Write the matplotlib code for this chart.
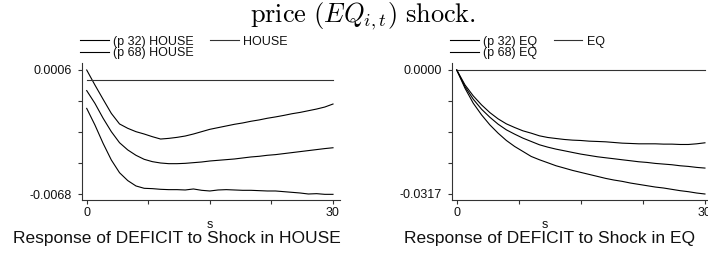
import matplotlib
matplotlib.use("Agg")
import matplotlib.pyplot as plt
import numpy as np

plt.rcParams['font.family'] = ['Liberation Sans', 'DejaVu Sans']
plt.rcParams['mathtext.fontset'] = 'cm'

steps = list(range(31))

house_p68 = [0.0006, -0.000295, -0.00115, -0.00199, -0.00262, -0.00288, -0.00308, -0.00322,
             -0.00338, -0.00352, -0.00348, -0.00342, -0.00334, -0.00322, -0.00308, -0.00294,
             -0.00284, -0.00274, -0.00264, -0.00256, -0.00246, -0.00238, -0.00228, -0.00220,
             -0.00211, -0.00201, -0.00193, -0.00183, -0.00173, -0.00161, -0.00143]
house_mid = [-0.00063, -0.00139, -0.00228, -0.00308, -0.00374, -0.00417, -0.00449, -0.00473,
             -0.00487, -0.00495, -0.00499, -0.00499, -0.00497, -0.00493, -0.00489, -0.00483,
             -0.00479, -0.00475, -0.00471, -0.00465, -0.00459, -0.00455, -0.00449, -0.00445,
             -0.00439, -0.00433, -0.00427, -0.00421, -0.00415, -0.00409, -0.00404]
house_p32 = [-0.00169, -0.00268, -0.00378, -0.00477, -0.00553, -0.00600, -0.00632, -0.00646,
             -0.00648, -0.00652, -0.00654, -0.00654, -0.00656, -0.00650, -0.00658, -0.00662,
             -0.00656, -0.00654, -0.00656, -0.00658, -0.00658, -0.00660, -0.00662, -0.00662,
             -0.00666, -0.00670, -0.00674, -0.00680, -0.00678, -0.00682, -0.00682]

eq_p68 = [0.0, -0.00382, -0.00663, -0.00892, -0.01088, -0.01249, -0.01377, -0.01470, -0.01555,
          -0.01615, -0.01683, -0.01725, -0.01751, -0.01776, -0.01793, -0.01802, -0.01819,
          -0.01827, -0.01836, -0.01853, -0.01870, -0.01878, -0.01887, -0.01887, -0.01887,
          -0.01895, -0.01895, -0.01904, -0.01904, -0.01887, -0.01861]
eq_mid = [0.0, -0.00425, -0.00748, -0.01003, -0.01207, -0.01385, -0.01530, -0.01640, -0.01742,
          -0.01827, -0.01912, -0.01972, -0.02023, -0.02065, -0.02108, -0.02150, -0.02184,
          -0.02218, -0.02244, -0.02269, -0.02295, -0.02320, -0.02346, -0.02363, -0.02388,
          -0.02405, -0.02422, -0.02448, -0.02465, -0.02490, -0.02507]
eq_p32 = [0.0, -0.00467, -0.00850, -0.01147, -0.01402, -0.01615, -0.01802, -0.01955, -0.02082,
          -0.02210, -0.02295, -0.02371, -0.02448, -0.02507, -0.02567, -0.02618, -0.02669,
          -0.02720, -0.02771, -0.02813, -0.02847, -0.02890, -0.02924, -0.02958, -0.02992,
          -0.03017, -0.03051, -0.03085, -0.03111, -0.03145, -0.03170]

panels = [
    dict(name="HOUSE", p32=house_p32, mid=house_mid, p68=house_p68,
         ymin=-0.0068, ymax=0.0006, ylabels=["0.0006", "-0.0068"],
         title="Response of DEFICIT to Shock in HOUSE"),
    dict(name="EQ", p32=eq_p32, mid=eq_mid, p68=eq_p68,
         ymin=-0.0317, ymax=0.0, ylabels=["0.0000", "-0.0317"],
         title="Response of DEFICIT to Shock in EQ"),
]

W, H = 708, 254
fig = plt.figure(figsize=(W / 100, H / 100), dpi=100)

axes_px = [(81.7, 340.0), (451.7, 712.0)]
title_x = [177, 549]
s_x = [210, 545]
ybot, ytop = 200.0, 63.0

for i, p in enumerate(panels):
    x0, x1 = axes_px[i]
    ax = fig.add_axes([x0 / W, 1 - ybot / H, (x1 - x0) / W, (ybot - ytop) / H])
    l1, = ax.plot(steps, p["p32"], color='black', lw=0.8)
    l3, = ax.plot(steps, p["p68"], color='black', lw=0.8)
    l2, = ax.plot(steps, [0.0] * len(steps), color='#333333', lw=0.8)
    l2.set_label(p["name"])
    l1.set_label("(p 32) " + p["name"])
    l3.set_label("(p 68) " + p["name"])
    ax.plot(steps, p["mid"], color='black', lw=0.8)

    step = (p["ymax"] - p["ymin"]) / 4
    ax.set_ylim(p["ymin"] - 6 / 31 * step, p["ymax"] + 7 / 31 * step)
    scale = 30 / ((333.0 - 86.7))
    ax.set_xlim(-5 * scale, 30 + 7 * scale)
    yt = np.linspace(p["ymax"], p["ymin"], 5)
    ax.set_yticks(yt)
    ax.set_yticklabels([p["ylabels"][0], "", "", "", p["ylabels"][1]])
    ax.set_xticks([0, 7.5, 15, 22.5, 30])
    ax.set_xticklabels(["0", "", "", "", "30"])
    for s in ["top", "right"]:
        ax.spines[s].set_visible(False)
    for s in ["left", "bottom"]:
        ax.spines[s].set_color('#333333')
        ax.spines[s].set_linewidth(0.8)
    ax.tick_params(axis='both', length=3, width=0.8, color='#333333', labelsize=9,
                   pad=2, labelcolor='#111111')
    ax.tick_params(axis='y', pad=4)

    leg = ax.legend(handles=[l1, l3, l2], ncol=2, loc='lower left',
                    bbox_to_anchor=(-1.5 / (x1 - x0), (ybot - 59) / (ybot - ytop)),
                    frameon=False, fontsize=9, handlelength=2.3, handletextpad=0.35,
                    columnspacing=1.3, labelspacing=-0.05, borderpad=0, borderaxespad=0)
    for t in leg.get_texts():
        t.set_color('#111111')

    fig.text(s_x[i] / W, 1 - 225 / H, "s", ha='center', va='center', fontsize=9,
             color='#111111')
    fig.text(title_x[i] / W, 1 - 238 / H, p["title"], ha='center', va='center',
             fontsize=12.5, color='#111111')

fig.text(363 / W, 1 - 22 / H, r"$\mathrm{price}\ (EQ_{i,t})\ \mathrm{shock.}$",
         ha='center', va='baseline', fontsize=19)

fig.savefig("out.png", dpi=100)
